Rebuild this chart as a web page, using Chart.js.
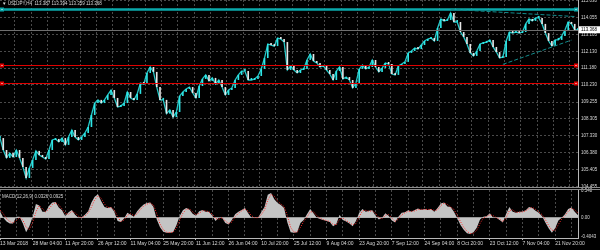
<!DOCTYPE html>
<html>
<head>
<meta charset="utf-8">
<script src="https://cdn.jsdelivr.net/npm/chart.js@4.4.1/dist/chart.umd.min.js"></script>
<style>
  html, body { margin: 0; padding: 0; background: #000; }
  #wrap { position: relative; width: 600px; height: 250px; overflow: hidden; background: #000; }
  #priceChart { position: absolute; left: 0; top: 0; }
  #macdChart { position: absolute; left: 0; top: 188px; }
</style>
</head>
<body>
<div id="wrap">
  <canvas id="priceChart" width="600" height="188"></canvas>
  <canvas id="macdChart" width="600" height="62"></canvas>
</div>
<script>
const symbolTitle = '▼ USDJPY,H4  113.387 113.394 113.359 113.368';
const macdTitle = 'MACD(12,26,9) 0.0326 0.0925';

const dateTicks = ['13 Mar 2018', '28 Mar 04:00', '11 Apr 20:00', '26 Apr 12:00', '11 May 04:00', '25 May 20:00',
  '11 Jun 12:00', '26 Jun 04:00', '10 Jul 20:00', '25 Jul 12:00', '9 Aug 04:00', '23 Aug 20:00',
  '7 Sep 12:00', '24 Sep 04:00', '8 Oct 20:00', '23 Oct 12:00', '7 Nov 04:00', '21 Nov 20:00'];

// closes sampled along the H4 chart
const closes = [
  107.21, 106.53, 106.08, 106.36, 106.13, 106.53, 106.08, 105.57, 104.94, 105.51,
  105.96, 106.48, 106.25, 106.13, 106.02, 106.53, 107.10, 107.16, 106.99, 107.21,
  106.82, 107.27, 107.67, 107.27, 107.10, 107.27, 107.50, 107.84, 108.52, 109.20,
  109.38, 109.20, 109.38, 109.66, 109.94, 109.49, 108.98, 109.03, 109.20, 109.83,
  109.49, 109.38, 109.72, 110.34, 110.28, 110.91, 111.25, 110.97, 110.11, 109.38,
  109.38, 108.60, 108.81, 108.40, 108.69, 109.60, 109.83, 110.00, 110.11, 109.77,
  109.49, 110.17, 110.57, 110.80, 110.46, 110.63, 110.28, 110.51, 110.11, 109.66,
  109.94, 110.06, 110.51, 110.80, 111.02, 111.02, 110.51, 110.51, 110.57, 110.74,
  111.14, 111.76, 112.56, 112.50, 112.44, 112.90, 112.84, 112.67, 111.08, 111.31,
  111.08, 110.91, 111.08, 111.14, 111.65, 111.99, 111.59, 111.48, 111.25, 111.31,
  111.08, 110.85, 110.51, 111.02, 111.25, 110.57, 110.68, 110.51, 110.06, 110.34,
  111.14, 111.36, 111.14, 111.25, 111.65, 111.25, 110.97, 111.19, 111.48, 111.42,
  110.85, 110.80, 111.31, 111.42, 111.54, 112.05, 112.16, 112.33, 112.27, 112.50,
  112.73, 112.84, 112.90, 112.73, 113.47, 113.98, 113.87, 113.92, 114.32, 113.81,
  113.81, 113.24, 112.96, 112.56, 112.05, 111.88, 112.16, 112.56, 112.62, 112.67,
  112.79, 112.39, 112.10, 111.76, 111.82, 112.73, 113.24, 113.18, 113.24, 113.18,
  113.24, 113.70, 113.98, 113.87, 114.04, 114.04, 113.70, 113.18, 112.73, 112.44,
  112.79, 112.79, 113.01, 113.35, 113.81, 113.70, 113.35, 113.37
];

const macdHist = [
  0.13, 0.00, -0.08, -0.12, -0.12, 0.02, 0.02, -0.12, -0.30, -0.18,
  0.02, 0.28, 0.25, 0.12, 0.12, 0.24, 0.31, 0.32, 0.21, 0.15,
  0.03, 0.11, 0.16, 0.06, 0.00, 0.01, 0.06, 0.13, 0.31, 0.43,
  0.48, 0.34, 0.22, 0.20, 0.22, 0.12, -0.07, -0.09, -0.02, 0.10,
  0.06, 0.02, 0.13, 0.21, 0.27, 0.30, 0.31, 0.22, -0.04, -0.20,
  -0.29, -0.31, -0.31, -0.30, -0.16, 0.03, 0.15, 0.20, 0.17, 0.08,
  0.04, 0.13, 0.16, 0.12, 0.12, 0.04, -0.07, 0.00, 0.00, -0.11,
  -0.14, -0.05, 0.07, 0.12, 0.16, 0.20, 0.09, 0.00, 0.00, 0.00,
  0.11, 0.22, 0.47, 0.51, 0.38, 0.30, 0.26, 0.20, -0.10, -0.30,
  -0.31, -0.30, -0.11, -0.05, 0.07, 0.18, 0.09, 0.00, -0.03, -0.05,
  -0.07, -0.09, -0.18, -0.13, 0.06, -0.05, -0.08, -0.12, -0.18, -0.07,
  0.10, 0.18, 0.12, 0.14, 0.15, 0.04, -0.04, 0.00, 0.09, 0.04,
  -0.06, -0.10, 0.02, 0.10, 0.11, 0.15, 0.12, 0.16, 0.19, 0.16,
  0.18, 0.16, 0.18, 0.12, 0.20, 0.29, 0.31, 0.23, 0.22, 0.12,
  -0.01, -0.15, -0.25, -0.32, -0.34, -0.30, -0.21, -0.04, 0.02, 0.03,
  0.09, 0.00, 0.00, -0.05, -0.10, 0.08, 0.22, 0.12, 0.10, 0.12,
  0.12, 0.15, 0.22, 0.20, 0.14, 0.10, 0.03, -0.10, -0.22, -0.31,
  -0.22, -0.06, 0.00, 0.07, 0.18, 0.21, 0.12, 0.05
];

const macdSignal = [
  0.16, 0.08, -0.02, -0.08, -0.11, -0.06, 0.00, -0.05, -0.20, -0.24,
  -0.10, 0.12, 0.25, 0.18, 0.12, 0.18, 0.27, 0.31, 0.26, 0.18,
  0.08, 0.07, 0.13, 0.10, 0.03, 0.00, 0.03, 0.10, 0.22, 0.37,
  0.45, 0.40, 0.28, 0.21, 0.21, 0.16, 0.02, -0.08, -0.05, 0.05,
  0.08, 0.04, 0.08, 0.17, 0.24, 0.28, 0.30, 0.26, 0.08, -0.13,
  -0.25, -0.30, -0.31, -0.30, -0.22, -0.06, 0.09, 0.17, 0.18, 0.12,
  0.06, 0.09, 0.14, 0.14, 0.12, 0.07, -0.02, -0.03, 0.00, -0.07,
  -0.12, -0.09, 0.02, 0.09, 0.14, 0.18, 0.13, 0.04, 0.00, 0.00,
  0.06, 0.16, 0.36, 0.48, 0.44, 0.34, 0.28, 0.23, 0.04, -0.20,
  -0.30, -0.30, -0.20, -0.08, 0.01, 0.12, 0.12, 0.04, -0.01, -0.04,
  -0.06, -0.08, -0.14, -0.15, -0.03, -0.01, -0.06, -0.10, -0.15, -0.12,
  0.02, 0.14, 0.15, 0.13, 0.14, 0.09, 0.00, -0.02, 0.05, 0.06,
  -0.01, -0.08, -0.03, 0.06, 0.10, 0.13, 0.13, 0.14, 0.17, 0.17,
  0.17, 0.17, 0.17, 0.15, 0.16, 0.25, 0.30, 0.27, 0.22, 0.17,
  0.05, -0.08, -0.20, -0.28, -0.33, -0.32, -0.26, -0.12, -0.01, 0.02,
  0.06, 0.04, 0.00, -0.03, -0.08, 0.00, 0.15, 0.16, 0.11, 0.11,
  0.12, 0.14, 0.19, 0.21, 0.17, 0.12, 0.06, -0.04, -0.16, -0.26,
  -0.26, -0.14, -0.03, 0.04, 0.13, 0.19, 0.16, 0.09
];

const priceTicks = [115.030, 114.055, 113.105, 112.130, 111.180, 110.230, 109.255, 108.305, 107.330, 106.380, 105.405, 104.455];
const macdTicks = [0.548, 0, -0.4043];
const macdTickLabels = ['0.548', '0.00', '-0.4043'];
const lastPrice = 113.368;
const levelPrices = [114.55, 111.35, 110.32];
// [startIndex, startPrice, endIndex, endPrice]
const trendLines = [[138, 114.53, 176, 114.12], [154, 111.40, 175, 112.78]];

const idx = closes.map((c, i) => i);
const candles = closes.map((c, i) => [i ? closes[i - 1] : c, c]);
const candleColors = closes.map((c, i) => (i && c < closes[i - 1]) ? '#e6e6e6' : '#2ee6e6');

const GRID = '#4a4a4a';
const AXIS = '#b8b8b8';
const TEXT = '#d8d8d8';
const FONT = 'Liberation Sans';
const levelColors = ['#0aa8aa', '#e00000', '#e00000'];

function hline(ctx, x1, x2, y) {
  ctx.beginPath(); ctx.moveTo(x1, y); ctx.lineTo(x2, y); ctx.stroke();
}

const priceOverlay = {
  id: 'priceOverlay',
  afterDatasetsDraw(chart) {
    const { ctx, chartArea: a, scales: { x, y } } = chart;
    ctx.save();
    ctx.beginPath(); ctx.rect(a.left, a.top, a.right - a.left, a.bottom - a.top); ctx.clip();
    ctx.lineWidth = 1;
    ctx.strokeStyle = '#6e6e6e';
    hline(ctx, a.left, a.right, Math.round(y.getPixelForValue(lastPrice)) + 0.5);

    levelPrices.forEach((p, k) => {
      const ly = Math.round(y.getPixelForValue(p)) + 0.5;
      ctx.strokeStyle = levelColors[k];
      ctx.lineWidth = k === 0 ? 2.5 : 1;
      hline(ctx, a.left, a.right, ly);
      [a.left + 2, a.right - 2].forEach(mx => {
        ctx.fillStyle = levelColors[k];
        ctx.fillRect(mx - 2, ly - 2, 4, 4);
        ctx.fillStyle = '#ffffff';
        ctx.fillRect(mx - 0.5, ly - 0.5, 1, 1);
      });
    });

    ctx.lineWidth = 1;
    ctx.strokeStyle = '#138c8c';
    ctx.setLineDash([4, 2]);
    trendLines.forEach(t => {
      ctx.beginPath();
      ctx.moveTo(x.getPixelForValue(t[0]), y.getPixelForValue(t[1]));
      ctx.lineTo(x.getPixelForValue(t[2]), y.getPixelForValue(t[3]));
      ctx.stroke();
    });
    ctx.restore();
  },
  afterDraw(chart) {
    const { ctx, chartArea: a, scales: { y } } = chart;
    ctx.save();
    ctx.font = '4.5px "' + FONT + '"';
    ctx.textBaseline = 'middle';
    ctx.fillStyle = TEXT;
    ctx.fillText(symbolTitle, 2, 4);

    const py = y.getPixelForValue(lastPrice);
    ctx.fillStyle = '#ffffff';
    ctx.fillRect(a.right + 1, py - 3.5, 21, 7);
    ctx.fillStyle = '#000000';
    ctx.fillText(lastPrice.toFixed(3), a.right + 3, py);

    ctx.strokeStyle = '#8c8c8c';
    ctx.lineWidth = 1;
    hline(ctx, 0, chart.width, chart.height - 0.5);
    ctx.restore();
  }
};

const macdOverlay = {
  id: 'macdOverlay',
  afterDraw(chart) {
    const { ctx } = chart;
    ctx.save();
    ctx.strokeStyle = '#8c8c8c';
    ctx.lineWidth = 1;
    hline(ctx, 0, chart.width, 1.5);
    ctx.font = '4.5px "' + FONT + '"';
    ctx.textBaseline = 'middle';
    ctx.fillStyle = TEXT;
    ctx.fillText(macdTitle, 2, 9);
    ctx.restore();
  }
};

const xGrid = c => c.index % 5 === 0 ? GRID : 'rgba(0,0,0,0)';

new Chart(document.getElementById('priceChart'), {
  type: 'bar',
  data: {
    labels: idx,
    datasets: [
      {
        type: 'bar',
        data: candles,
        backgroundColor: candleColors,
        barPercentage: 0.5,
        categoryPercentage: 1,
        minBarLength: 2,
        order: 1
      },
      {
        type: 'line',
        data: closes,
        borderColor: '#24c8c8',
        borderWidth: 1.3,
        pointRadius: 0,
        tension: 0,
        order: 2
      }
    ]
  },
  options: {
    responsive: false,
    animation: false,
    layout: { padding: 0 },
    plugins: { legend: { display: false }, tooltip: { enabled: false } },
    scales: {
      x: {
        offset: false,
        afterFit: s => { s.height = 0; s.paddingLeft = 0; s.paddingRight = 0; },
        ticks: { display: false, autoSkip: false },
        grid: { color: xGrid, drawTicks: false },
        border: { display: false, dash: [2, 2] }
      },
      y: {
        position: 'right',
        min: 104.37,
        max: 115.06,
        afterBuildTicks: s => { s.ticks = priceTicks.map(v => ({ value: v })); },
        afterFit: s => { s.width = 22; s.paddingTop = 0; s.paddingBottom = 0; },
        ticks: {
          color: TEXT,
          padding: 3,
          font: { size: 4.5, family: FONT },
          callback: v => v.toFixed(3)
        },
        grid: { color: GRID, drawTicks: false },
        border: { color: AXIS, dash: [2, 2] }
      }
    }
  },
  plugins: [priceOverlay]
});

new Chart(document.getElementById('macdChart'), {
  type: 'line',
  data: {
    labels: idx,
    datasets: [
      {
        data: macdHist,
        borderWidth: 0,
        borderColor: 'rgba(0,0,0,0)',
        backgroundColor: '#c4c4c4',
        fill: 'origin',
        pointRadius: 0,
        tension: 0,
        order: 2
      },
      {
        data: macdSignal,
        borderColor: '#ff2a2a',
        borderWidth: 1,
        borderDash: [1, 1.5],
        fill: false,
        pointRadius: 0,
        tension: 0,
        order: 1
      }
    ]
  },
  options: {
    responsive: false,
    animation: false,
    layout: { padding: { top: 2 } },
    plugins: { legend: { display: false }, tooltip: { enabled: false } },
    scales: {
      x: {
        offset: false,
        afterFit: s => { s.height = 12; s.paddingLeft = 0; s.paddingRight = 0; },
        ticks: {
          autoSkip: false,
          maxRotation: 0,
          minRotation: 0,
          align: 'start',
          padding: 1,
          color: TEXT,
          font: { size: 5, family: FONT },
          callback: (v, i) => i % 10 === 0 ? dateTicks[i / 10] : ''
        },
        grid: {
          color: xGrid,
          tickLength: 2,
          tickColor: c => c.index % 10 === 0 ? AXIS : 'rgba(0,0,0,0)'
        },
        border: { color: AXIS, dash: [2, 2] }
      },
      y: {
        position: 'right',
        min: -0.42,
        max: 0.57,
        afterBuildTicks: s => { s.ticks = macdTicks.map(v => ({ value: v })); },
        afterFit: s => { s.width = 22; s.paddingTop = 0; s.paddingBottom = 0; },
        ticks: {
          color: TEXT,
          padding: 3,
          font: { size: 4.5, family: FONT },
          callback: (v, i) => macdTickLabels[i]
        },
        grid: { color: c => c.tick && c.tick.value === 0 ? '#8a8a8a' : 'rgba(0,0,0,0)', drawTicks: false },
        border: { color: AXIS }
      }
    }
  },
  plugins: [macdOverlay]
});
</script>
</body>
</html>
